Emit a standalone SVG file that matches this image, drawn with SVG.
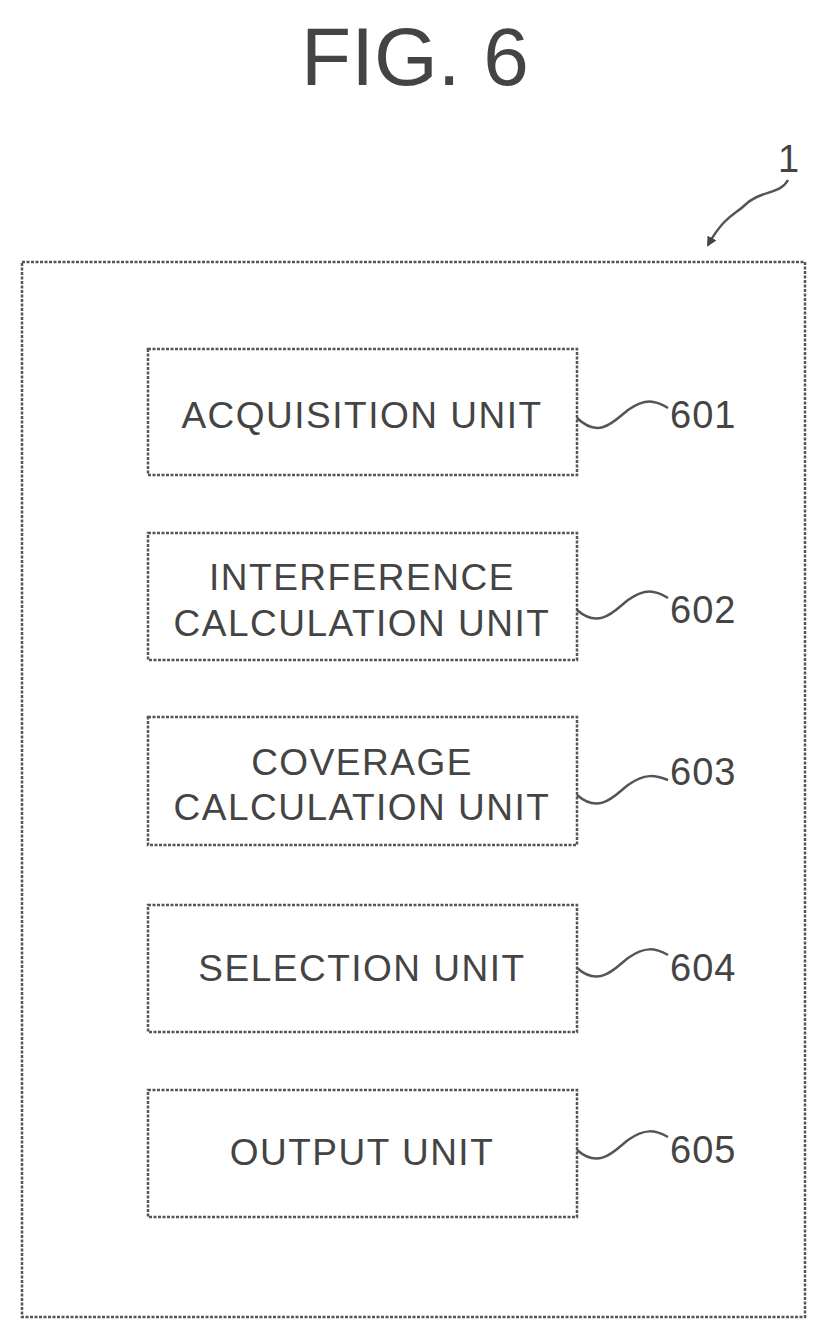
<svg xmlns="http://www.w3.org/2000/svg" width="827" height="1339" viewBox="0 0 827 1339">
<style>
.box{fill:none;stroke:#555;stroke-width:2.5;stroke-dasharray:3 1.5}
.t{font-family:"Liberation Sans",Arial,sans-serif;font-size:37px;letter-spacing:1.5px;fill:#444;text-anchor:middle}
.n{font-family:"Liberation Sans",Arial,sans-serif;font-size:38px;letter-spacing:1px;fill:#444}
.w{fill:none;stroke:#555;stroke-width:2.5}
</style>
<defs><marker id="ah" markerWidth="10" markerHeight="10" refX="8" refY="5" orient="auto" markerUnits="userSpaceOnUse" viewBox="0 0 10 10"><path d="M0,0 L10,5 L0,10 z" fill="#444"/></marker></defs>
<rect width="827" height="1339" fill="#fff"/>
<text x="415" y="85" font-family="Liberation Sans,Arial,sans-serif" font-size="82" fill="#444" text-anchor="middle">FIG. 6</text>
<g id="system"><rect class="box" x="22" y="262" width="783" height="1055"/>
<text class="n" x="778" y="172" font-family="Liberation Serif,serif">1</text></g>
<g id="n601"><rect class="box" x="148" y="349" width="429" height="126"/><text class="t" x="362" y="428">ACQUISITION UNIT</text><text class="n" x="670" y="428">601</text></g>
<g id="n602"><rect class="box" x="148" y="533" width="429" height="127"/><text class="t" x="362" y="590">INTERFERENCE</text><text class="t" x="362" y="636">CALCULATION UNIT</text><text class="n" x="670" y="623">602</text></g>
<g id="n603"><rect class="box" x="148" y="717" width="429" height="128"/><text class="t" x="362" y="775">COVERAGE</text><text class="t" x="362" y="820">CALCULATION UNIT</text><text class="n" x="670" y="785">603</text></g>
<g id="n604"><rect class="box" x="148" y="905" width="429" height="127"/><text class="t" x="362" y="981">SELECTION UNIT</text><text class="n" x="670" y="981">604</text></g>
<g id="n605"><rect class="box" x="148" y="1090" width="429" height="127"/><text class="t" x="362" y="1165">OUTPUT UNIT</text><text class="n" x="670" y="1163">605</text></g>
<g id="connectors">
<path class="w" d="M577,418 C600,440 615,420 628,410 C645,398 655,400 668,408"/>
<path class="w" d="M577,610 C600,630 615,610 628,600 C645,588 655,590 668,598"/>
<path class="w" d="M577,795 C600,815 615,795 628,785 C645,773 655,775 668,780"/>
<path class="w" d="M577,968 C600,988 615,968 628,958 C645,946 655,948 668,955"/>
<path class="w" d="M577,1150 C600,1170 615,1150 628,1140 C645,1128 655,1130 668,1137"/>
<path class="w" marker-end="url(#ah)" d="M788,180 C780,195 760,190 745,205 C735,215 725,215 708,245"/>
</g>
</svg>
